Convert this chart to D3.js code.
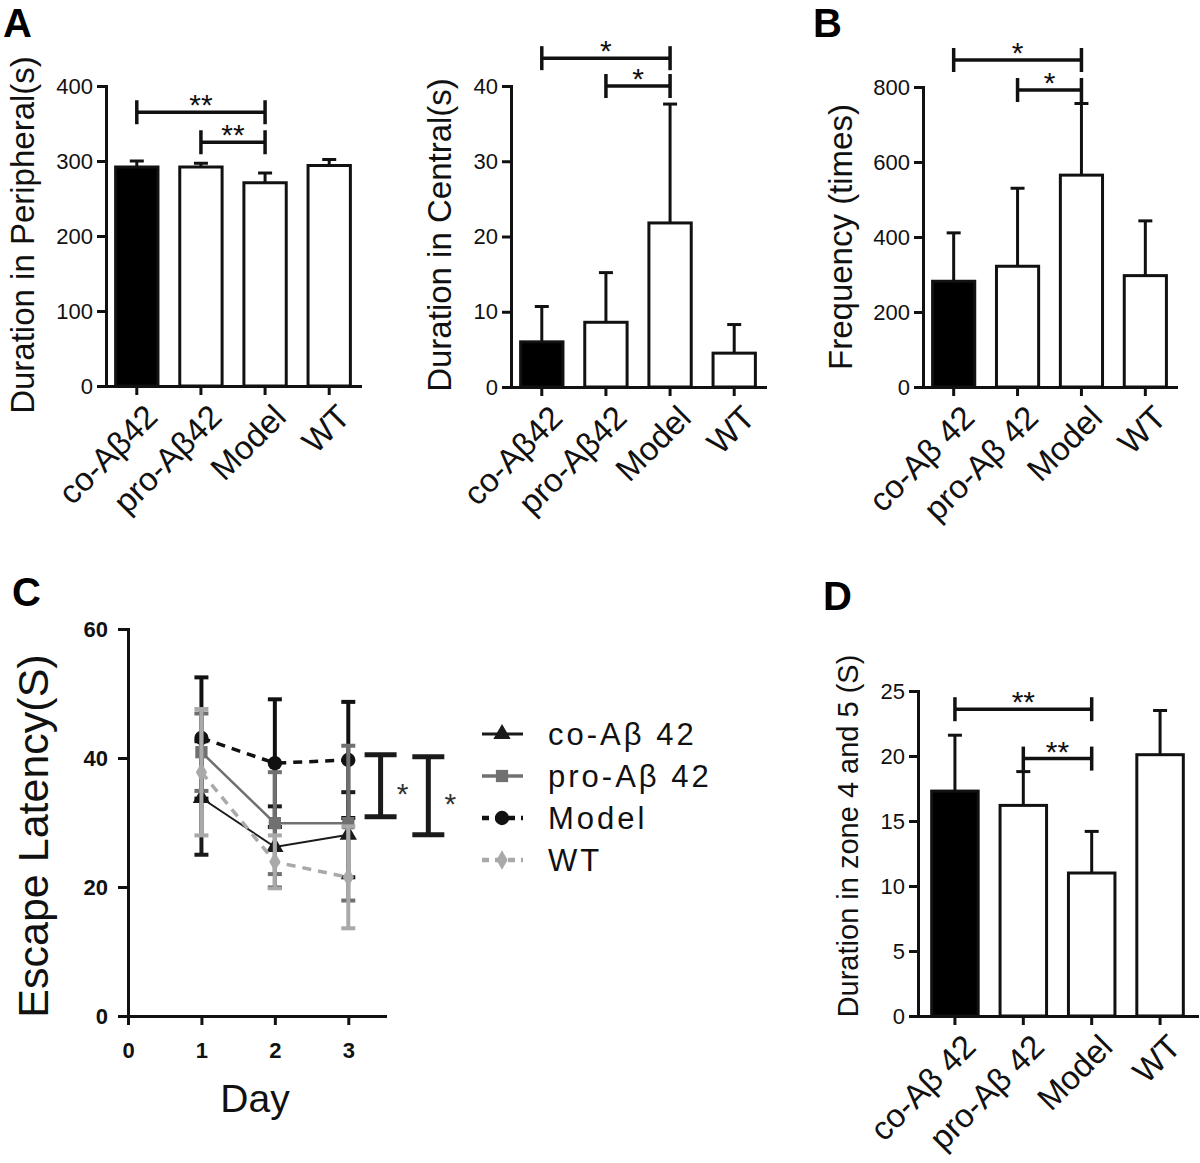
<!DOCTYPE html>
<html>
<head>
<meta charset="UTF-8">
<style>
  body { margin: 0; background: #fff; }
  svg { display: block; }
</style>
<script src="https://d3js.org/d3.v7.min.js"></script>
</head>
<body>
<svg id="fig" width="1200" height="1163"></svg>
<script>
// ---------------- data ----------------
var groupsA = ["co-Aβ42", "pro-Aβ42", "Model", "WT"];
var groupsB = ["co-Aβ 42", "pro-Aβ 42", "Model", "WT"];

var periMean = [292, 292, 271, 294];
var periSD   = [8, 5, 13, 8];
var periTicks = [0, 100, 200, 300, 400];
var periSig = [[0, 2, 365, "**"], [1, 2, 325, "**"]];

var centralMean = [6.0, 8.6, 21.8, 4.5];
var centralSD   = [4.7, 6.6, 15.8, 3.8];
var centralTicks = [0, 10, 20, 30, 40];
var centralSig = [[0, 2, 43.7, "*"], [1, 2, 40.0, "*"]];

var freqMean = [282, 322, 565, 297];
var freqSD   = [129, 208, 191, 146];
var freqTicks = [0, 200, 400, 600, 800];
var freqSig = [[0, 2, 872, "*"], [1, 2, 792, "*"]];

var zoneMean = [17.3, 16.2, 11.0, 20.1];
var zoneSD   = [4.3, 2.6, 3.2, 3.4];
var zoneTicks = [0, 5, 10, 15, 20, 25];
var zoneSig = [[0, 2, 23.6, "**"], [1, 2, 19.8, "**"]];

var days = [1, 2, 3];
var dayTicks = [0, 1, 2, 3];
var latTicks = [0, 20, 40, 60];
var latSeries = ["co-Aβ 42", "pro-Aβ 42", "Model", "WT"];
var latMean = [
  [33.8, 26.2, 28.1],
  [40.9, 29.9, 29.9],
  [43.1, 39.2, 39.7],
  [37.8, 23.9, 21.5]
];
var latSD = [
  [8.8, 6.3, 6.6],
  [6.0, 7.9, 12.0],
  [9.4, 9.9, 9.0],
  [9.8, 4.1, 7.9]
];
// significance bars on the right of panel C: [x in day units, low, high]
var latSig = [[3.44, 30.9, 40.5], [4.09, 28.1, 40.2]];

// ---------------- drawing ----------------
var FONT = '"Liberation Sans", Arial, Helvetica, sans-serif';
var INK = "#111";
var svg = d3.select("#fig").attr("font-family", FONT);

function styleAxis(a, fs, bold) {
  a.attr("font-family", FONT);
  a.select(".domain").attr("stroke", INK).attr("stroke-width", 3).attr("stroke-linecap", "square");
  a.selectAll(".tick line").attr("stroke", INK).attr("stroke-width", 3);
  a.selectAll(".tick text").attr("fill", INK).style("font-size", fs + "px")
    .style("font-weight", bold ? "bold" : "normal");
}

function barPanel(p) {
  var g = svg.append("g");
  var y = d3.scaleLinear().domain([0, p.max]).range([p.y0, p.y1]);
  var x = d3.scaleBand().domain(p.cats).range([p.x0, p.x1])
    .paddingInner(p.pin).paddingOuter(p.pout);
  var bw = x.bandwidth();
  var rows = p.cats.map(function(c, i) { return {c: c, m: p.means[i], sd: p.sds[i], i: i}; });

  g.selectAll("rect.bar").data(rows).enter().append("rect")
    .attr("class", "bar")
    .attr("x", function(d) { return x(d.c); })
    .attr("y", function(d) { return y(d.m); })
    .attr("width", bw)
    .attr("height", function(d) { return p.y0 - y(d.m); })
    .attr("fill", function(d) { return d.i === 0 ? "#000" : "#fff"; })
    .attr("stroke", INK).attr("stroke-width", 3);

  // upper error bars
  var eb = g.selectAll("g.err").data(rows).enter().append("g").attr("class", "err")
    .attr("stroke", INK).attr("stroke-width", 3);
  eb.append("line")
    .attr("x1", function(d) { return x(d.c) + bw / 2; })
    .attr("x2", function(d) { return x(d.c) + bw / 2; })
    .attr("y1", function(d) { return y(d.m); })
    .attr("y2", function(d) { return y(d.m + d.sd); });
  eb.append("line")
    .attr("x1", function(d) { return x(d.c) + bw / 2 - 7; })
    .attr("x2", function(d) { return x(d.c) + bw / 2 + 7; })
    .attr("y1", function(d) { return y(d.m + d.sd); })
    .attr("y2", function(d) { return y(d.m + d.sd); });

  g.append("g").attr("transform", "translate(" + p.x0 + ",0)")
    .call(d3.axisLeft(y).tickValues(p.ticks).tickSize(9).tickPadding(4).tickSizeOuter(0))
    .call(function(a) { styleAxis(a, 22, false); });

  g.append("g").attr("transform", "translate(0," + p.y0 + ")")
    .call(d3.axisBottom(x).tickSize(9).tickSizeOuter(0))
    .call(function(a) {
      styleAxis(a, 33, false);
      a.selectAll(".tick text")
        .attr("x", 0).attr("y", 0).attr("dy", "0.72em")
        .attr("transform", "translate(6,16) rotate(-45)")
        .style("text-anchor", "end");
    });

  // significance brackets
  p.sig.forEach(function(s) {
    var xa = x(p.cats[s[0]]) + bw / 2, xb = x(p.cats[s[1]]) + bw / 2, yy = y(s[2]);
    var sg = g.append("g").attr("stroke", INK).attr("stroke-width", 3.5);
    sg.append("line").attr("x1", xa).attr("x2", xb).attr("y1", yy).attr("y2", yy);
    sg.append("line").attr("x1", xa).attr("x2", xa).attr("y1", yy - 12).attr("y2", yy + 12);
    sg.append("line").attr("x1", xb).attr("x2", xb).attr("y1", yy - 12).attr("y2", yy + 12);
    g.append("text").attr("x", (xa + xb) / 2).attr("y", yy + 3)
      .attr("text-anchor", "middle").style("font-size", "30px").attr("fill", INK)
      .text(s[3]);
  });

  g.append("text")
    .attr("transform", "translate(" + p.tx + "," + p.ty + ") rotate(-90)")
    .attr("text-anchor", "middle").attr("dominant-baseline", "central")
    .style("font-size", p.tfs + "px").attr("fill", INK)
    .text(p.title);
}

barPanel({cats: groupsA, means: periMean, sds: periSD, ticks: periTicks, sig: periSig, max: 400,
  x0: 106, x1: 360, y0: 386, y1: 86, pin: 0.34, pout: 0.15,
  title: "Duration in Peripheral(s)", tx: 22, ty: 235, tfs: 33});
barPanel({cats: groupsA, means: centralMean, sds: centralSD, ticks: centralTicks, sig: centralSig, max: 40,
  x0: 511, x1: 765, y0: 387, y1: 86, pin: 0.34, pout: 0.15,
  title: "Duration in Central(s)", tx: 439, ty: 235, tfs: 33});
barPanel({cats: groupsB, means: freqMean, sds: freqSD, ticks: freqTicks, sig: freqSig, max: 800,
  x0: 923, x1: 1176, y0: 387, y1: 87, pin: 0.34, pout: 0.15,
  title: "Frequency (times)", tx: 840, ty: 237, tfs: 33});
barPanel({cats: groupsB, means: zoneMean, sds: zoneSD, ticks: zoneTicks, sig: zoneSig, max: 25,
  x0: 918, x1: 1197, y0: 1016, y1: 691, pin: 0.32, pout: 0.2,
  title: "Duration in zone 4 and 5 (S)", tx: 848, ty: 836, tfs: 29});

// ---------------- panel C: escape latency ----------------
(function() {
  var g = svg.append("g");
  var x = d3.scaleLinear().domain([0, 3.5]).range([128, 385]);
  var y = d3.scaleLinear().domain([0, 60]).range([1016, 629]);
  var colors = ["#1a1a1a", "#707070", "#111", "#a9a9a9"];
  var widths = [2, 2.5, 3.5, 3.5];
  var dashes = [null, null, "9,7", "9,7"];
  var shapes = [d3.symbolTriangle, d3.symbolSquare, d3.symbolCircle, d3.symbolDiamond];
  var sizes = [130, 150, 160, 110];
  var order = [0, 2, 1, 3];

  g.append("g").attr("transform", "translate(128,0)")
    .call(d3.axisLeft(y).tickValues(latTicks).tickSize(10).tickPadding(10).tickSizeOuter(0))
    .call(function(a) { styleAxis(a, 22, true); });
  g.append("g").attr("transform", "translate(0,1016)")
    .call(d3.axisBottom(x).tickValues(dayTicks).tickFormat(d3.format("d")).tickSize(9).tickPadding(17).tickSizeOuter(0))
    .call(function(a) { styleAxis(a, 22, true); });

  var line = d3.line().x(function(d) { return x(d.day); }).y(function(d) { return y(d.m); });

  order.forEach(function(s) {
    var pts = days.map(function(d, j) { return {day: d, m: latMean[s][j], sd: latSD[s][j]}; });
    var sg = g.append("g");
    var eb = sg.selectAll("g").data(pts).enter().append("g")
      .attr("stroke", colors[s]).attr("stroke-width", 4);
    eb.append("line")
      .attr("x1", function(d) { return x(d.day); }).attr("x2", function(d) { return x(d.day); })
      .attr("y1", function(d) { return y(d.m - d.sd); }).attr("y2", function(d) { return y(d.m + d.sd); });
    [-1, 1].forEach(function(k) {
      eb.append("line")
        .attr("x1", function(d) { return x(d.day) - 7; }).attr("x2", function(d) { return x(d.day) + 7; })
        .attr("y1", function(d) { return y(d.m + k * d.sd); }).attr("y2", function(d) { return y(d.m + k * d.sd); });
    });
    sg.append("path").datum(pts).attr("d", line).attr("fill", "none")
      .attr("stroke", colors[s]).attr("stroke-width", widths[s])
      .attr("stroke-dasharray", dashes[s]);
    sg.selectAll("path.mk").data(pts).enter().append("path").attr("class", "mk")
      .attr("transform", function(d) { return "translate(" + x(d.day) + "," + y(d.m) + ")"; })
      .attr("d", d3.symbol().type(shapes[s]).size(sizes[s]))
      .attr("fill", colors[s]);
  });

  // significance bars
  latSig.forEach(function(s, i) {
    var cx = x(s[0]), ya = y(s[1]), yb = y(s[2]);
    var bg = g.append("g").attr("stroke", "#1a1a1a").attr("stroke-width", 5);
    bg.append("line").attr("x1", cx).attr("x2", cx).attr("y1", ya).attr("y2", yb);
    bg.append("line").attr("x1", cx - 16).attr("x2", cx + 16).attr("y1", ya).attr("y2", ya);
    bg.append("line").attr("x1", cx - 16).attr("x2", cx + 16).attr("y1", yb).attr("y2", yb);
    g.append("text").attr("x", cx + 22).attr("y", (ya + yb) / 2 + 18)
      .attr("text-anchor", "middle").style("font-size", "30px").attr("fill", "#333")
      .text("*");
  });

  // legend
  latSeries.forEach(function(name, s) {
    var ry = 734 + s * 42;
    var lg = g.append("g");
    lg.append("line").attr("x1", 482).attr("x2", 523).attr("y1", ry).attr("y2", ry)
      .attr("stroke", colors[s]).attr("stroke-width", widths[s] + 1)
      .attr("stroke-dasharray", dashes[s] ? "7,6" : null);
    lg.append("path").attr("transform", "translate(502," + ry + ")")
      .attr("d", d3.symbol().type(shapes[s]).size(sizes[s]))
      .attr("fill", colors[s]);
    lg.append("text").attr("x", 548).attr("y", ry).attr("dominant-baseline", "central")
      .style("font-size", "31px").style("letter-spacing", "3px").attr("fill", INK)
      .text(name);
  });

  g.append("text")
    .attr("transform", "translate(33,836) rotate(-90)")
    .attr("text-anchor", "middle").attr("dominant-baseline", "central")
    .style("font-size", "43px").attr("fill", INK)
    .text("Escape Latency(S)");
  g.append("text").attr("x", 255).attr("y", 1112).attr("text-anchor", "middle")
    .style("font-size", "39px").attr("fill", INK).text("Day");
})();

// panel letters
[["A", 3, 37], ["B", 813, 37], ["C", 12, 606], ["D", 823, 610]].forEach(function(l) {
  svg.append("text").attr("x", l[1]).attr("y", l[2])
    .style("font-size", "40px").style("font-weight", "bold").attr("fill", "#000")
    .text(l[0]);
});
</script>
</body>
</html>
